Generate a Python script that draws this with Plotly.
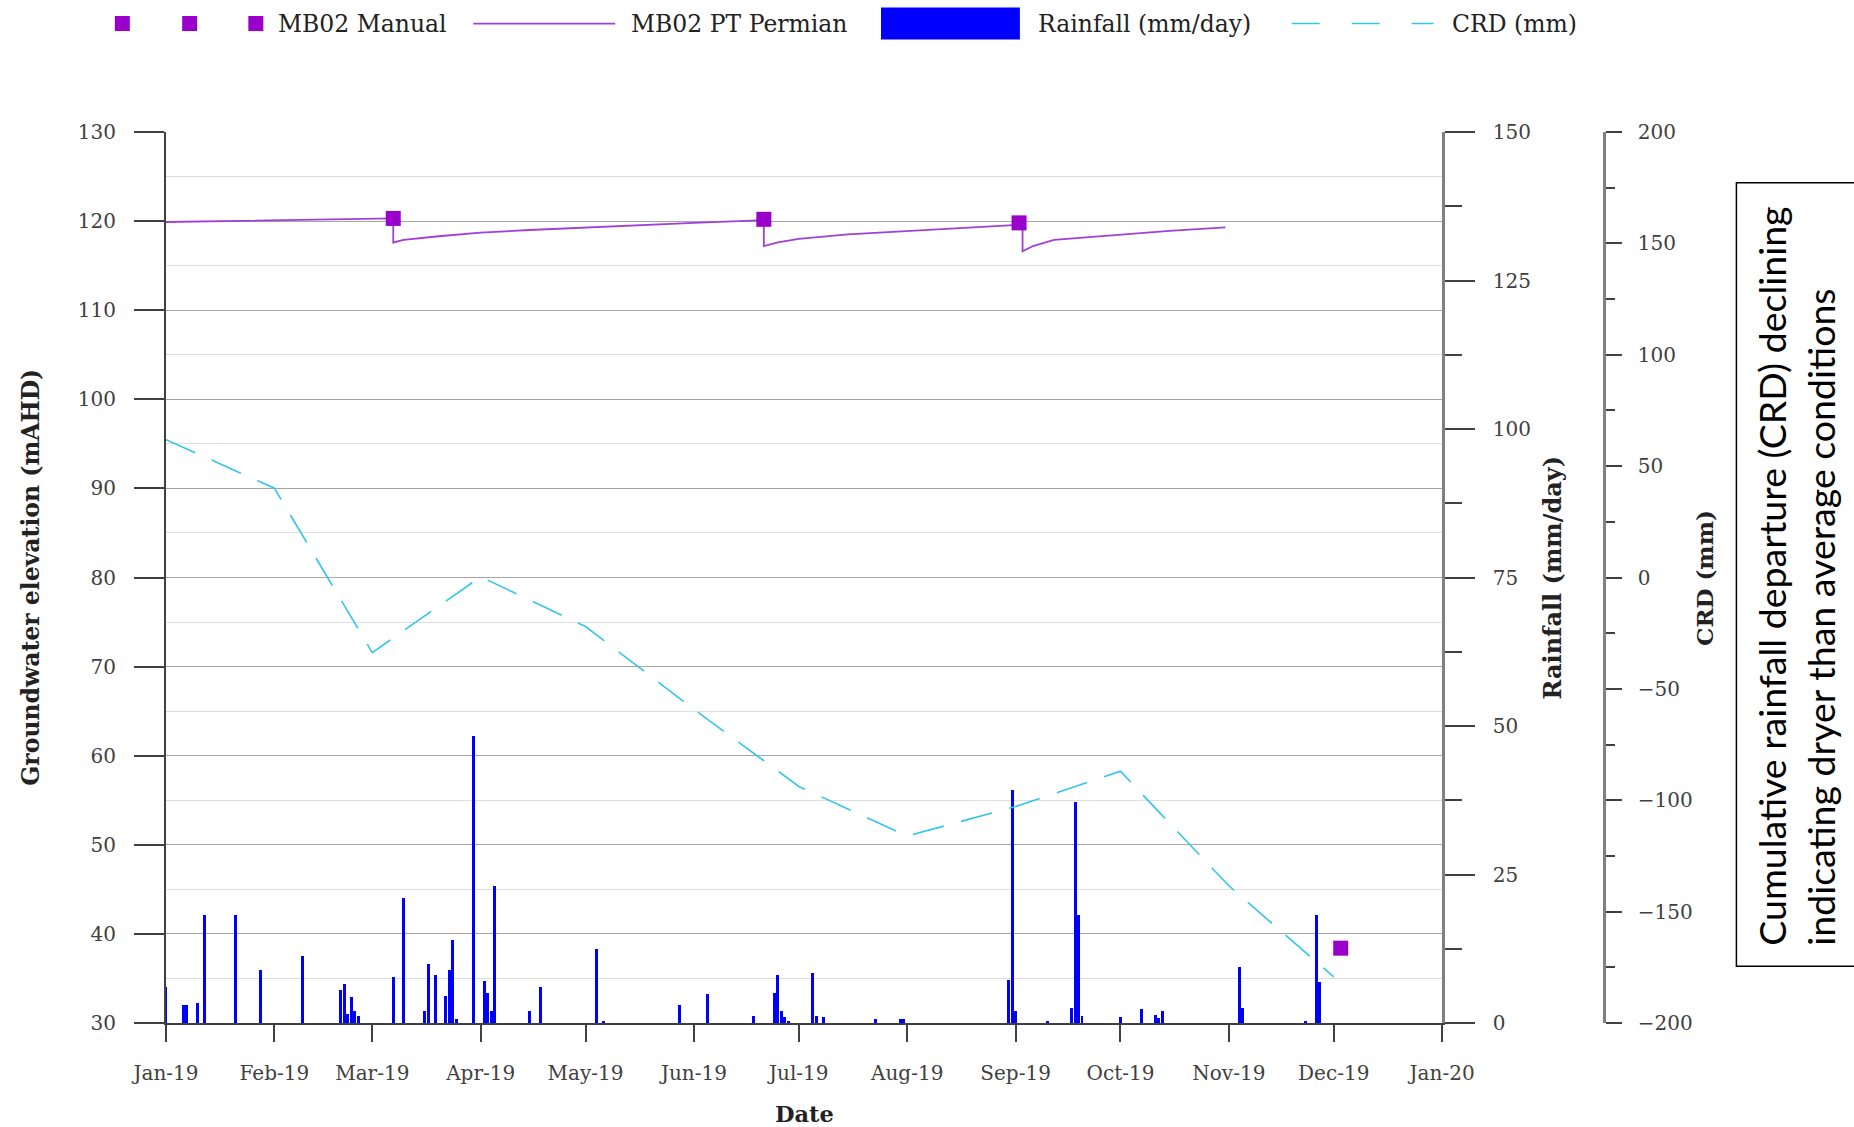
import plotly.graph_objects as go

# Manuelle Messungen (mAHD)
manual_dates = ["2019-03-07", "2019-06-21", "2019-09-02", "2019-12-03"]
manual_mahd = [120.3, 120.2, 119.8, 38.4]

# Drucksonde MB02 PT Permian (mAHD)
pt_dates = ["2019-01-01", "2019-02-01", "2019-03-07", "2019-03-07", "2019-03-10", "2019-03-20",
            "2019-04-01", "2019-04-15", "2019-05-01", "2019-06-01", "2019-06-21", "2019-06-21",
            "2019-06-25", "2019-07-01", "2019-07-15", "2019-08-01", "2019-08-15", "2019-09-03",
            "2019-09-03", "2019-09-06", "2019-09-12", "2019-10-01", "2019-10-15", "2019-10-31"]
pt_mahd = [119.9, 120.1, 120.3, 117.6, 117.9, 118.3,
           118.7, 119.0, 119.3, 119.8, 120.1, 117.2,
           117.6, 118.0, 118.5, 118.9, 119.2, 119.6,
           116.6, 117.2, 117.9, 118.5, 118.9, 119.3]

# Niederschlag (mm/day)
rain_dates = ["2019-01-01", "2019-01-06", "2019-01-07", "2019-01-10", "2019-01-12", "2019-01-21",
              "2019-01-28", "2019-02-09", "2019-02-20", "2019-02-21", "2019-02-22", "2019-02-23",
              "2019-02-24", "2019-02-25", "2019-03-07", "2019-03-10", "2019-03-16", "2019-03-17",
              "2019-03-19", "2019-03-22", "2019-03-23", "2019-03-24", "2019-03-25", "2019-03-30",
              "2019-04-02", "2019-04-03", "2019-04-04", "2019-04-05", "2019-04-15", "2019-04-18",
              "2019-05-04", "2019-05-06", "2019-05-28", "2019-06-05", "2019-06-18", "2019-06-24",
              "2019-06-25", "2019-06-26", "2019-06-27", "2019-06-28", "2019-07-05", "2019-07-06",
              "2019-07-08", "2019-07-23", "2019-07-30", "2019-07-31", "2019-08-30", "2019-08-31",
              "2019-09-01", "2019-09-10", "2019-09-17", "2019-09-18", "2019-09-19", "2019-09-20",
              "2019-10-01", "2019-10-07", "2019-10-11", "2019-10-12", "2019-10-13", "2019-11-04",
              "2019-11-05", "2019-11-23", "2019-11-26", "2019-11-27"]
rain_mm = [6.1, 3.0, 3.0, 3.4, 18.1, 18.1,
           9.0, 11.2, 5.6, 6.6, 1.6, 4.4,
           2.0, 1.1, 7.7, 21.0, 2.0, 10.0,
           8.0, 4.6, 9.0, 14.0, 0.7, 48.4,
           7.0, 5.0, 2.0, 23.0, 2.0, 6.0,
           12.5, 0.3, 3.0, 4.9, 1.1, 5.0,
           8.0, 2.0, 1.0, 0.3, 8.4, 1.1,
           1.0, 0.6, 0.6, 0.6, 7.3, 39.2,
           2.0, 0.3, 2.5, 37.2, 18.1, 1.1,
           1.0, 2.4, 1.4, 0.8, 2.0, 9.4,
           2.5, 0.3, 18.1, 6.9]

# Cumulative rainfall departure (mm), monatlich
crd_dates = ["2019-01-01", "2019-02-01", "2019-03-01", "2019-04-01", "2019-05-01", "2019-06-01",
             "2019-07-01", "2019-08-01", "2019-09-01", "2019-10-01", "2019-11-01", "2019-12-01"]
crd_mm = [61.9, 40.1, -33.7, 0.3, -22.0, -59.2, -93.8, -116.1, -102.8, -87.0, -138.4, -179.3]

PURPLE = "#9900CC"
PT_COL = "#A040D8"
BLUE = "#0000FF"
CYAN = "#33C6E8"
GREY = "#404040"
SERIF = "DejaVu Serif"

# Seitenlayout in Pixeln
W, H = 1854, 1127
L, R, T, B = 165.5, 249.5, 132.4, 104.2
PW = W - L - R
PH = H - T - B


def px(x):
    return (x - L) / PW


def py(y):
    return (H - B - y) / PH


fig = go.Figure()

fig.add_trace(go.Scatter(x=pt_dates, y=pt_mahd, mode="lines", name="MB02 PT Permian",
                         line=dict(color=PT_COL, width=1.8), yaxis="y"))
fig.add_trace(go.Scatter(x=manual_dates, y=manual_mahd, mode="markers", name="MB02 Manual",
                         marker=dict(symbol="square", size=15, color=PURPLE), yaxis="y"))
fig.add_trace(go.Bar(x=rain_dates, y=rain_mm, name="Rainfall (mm/day)", marker_color=BLUE,
                     marker_line_width=0, width=0.85 * 86400000, yaxis="y2"))
fig.add_trace(go.Scatter(x=crd_dates, y=crd_mm, mode="lines", name="CRD (mm)",
                         line=dict(color=CYAN, width=1.6, dash="32px,18px"), yaxis="y3"))

tickfont = dict(family=SERIF, size=20, color=GREY)

fig.update_layout(
    template="none",
    width=W, height=H,
    margin=dict(l=L, r=R, t=T, b=B, pad=0),
    paper_bgcolor="white", plot_bgcolor="white",
    showlegend=False,
    bargap=0,
    xaxis=dict(
        domain=[0, px(1442.5)], type="date",
        range=["2019-01-01", "2020-01-01"],
        tick0="2019-01-01", dtick="M1", tickformat="%b-%y",
        ticks="outside", ticklen=17, tickwidth=1.5, tickcolor=GREY,
        showline=True, linecolor=GREY, linewidth=2,
        showgrid=False, zeroline=False, automargin=False,
        tickfont=tickfont, ticklabelstandoff=14,
    ),
    yaxis=dict(
        range=[30, 130], tick0=30, dtick=10,
        ticks="outside", ticklen=30, tickwidth=1.5, tickcolor=GREY,
        showline=True, linecolor=GREY, linewidth=2,
        showgrid=True, gridcolor="#a6a6a6", gridwidth=1,
        minor=dict(dtick=5, showgrid=True, gridcolor="#dedede", gridwidth=1, ticks=""),
        zeroline=False, automargin=False,
        tickfont=tickfont, ticklabelstandoff=14,
    ),
    yaxis2=dict(
        overlaying="y", side="right", anchor="x",
        range=[0, 150], tick0=0, dtick=25,
        ticks="outside", ticklen=30, tickwidth=1.5, tickcolor=GREY,
        minor=dict(dtick=12.5, ticks="outside", ticklen=17, tickwidth=1.5, tickcolor=GREY,
                   showgrid=False),
        showline=True, linecolor="#808080", linewidth=2.5,
        showgrid=False, zeroline=False, automargin=False,
        tickfont=tickfont, ticklabelstandoff=14,
    ),
    yaxis3=dict(
        overlaying="y", side="right", anchor="free", position=1.0,
        range=[-200, 200], tick0=-200, dtick=50,
        ticks="outside", ticklen=16, tickwidth=1.5, tickcolor=GREY,
        minor=dict(dtick=25, ticks="outside", ticklen=9, tickwidth=1.5, tickcolor=GREY,
                   showgrid=False),
        showline=True, linecolor="#808080", linewidth=2.5,
        showgrid=False, zeroline=False, automargin=False,
        tickfont=tickfont, ticklabelstandoff=12,
    ),
)

annos = [
    dict(text="<b>Groundwater elevation (mAHD)</b>", x=px(29.6), y=0.5, textangle=-90, size=23.5),
    dict(text="<b>Rainfall (mm/day)</b>", x=px(1552.5), y=0.5, textangle=-90, size=24),
    dict(text="<b>CRD (mm)</b>", x=px(1705), y=0.5, textangle=-90, size=23),
    dict(text="<b>Date</b>", x=px(804), y=py(1114), size=22.5),
]
for a in annos:
    size = a.pop("size")
    fig.add_annotation(xref="paper", yref="paper", showarrow=False,
                       font=dict(family=SERIF, size=size, color="#222222"),
                       xanchor="center", yanchor="middle", **a)

# Textbox rechts
fig.add_shape(type="rect", xref="paper", yref="paper",
              x0=px(1737), x1=px(1875), y0=py(966), y1=py(183),
              line=dict(color="black", width=1.5), fillcolor="white", layer="above")
fig.add_annotation(xref="paper", yref="paper", x=px(1797), y=py(576.5), showarrow=False,
                   textangle=-90, align="left", xanchor="center", yanchor="middle",
                   text="Cumulative rainfall departure (CRD) declining<br>"
                        "indicating dryer than average conditions",
                   font=dict(family="Lato", size=37.5, color="black"))

# Legende (manuell, wie im Original)
leg_y = py(24)
legfont = dict(family=SERIF, size=23.5, color="#222222")
for mx in (121.8, 189.2, 255.4):
    fig.add_shape(type="rect", xref="paper", yref="paper",
                  x0=px(mx - 7.5), x1=px(mx + 7.5), y0=py(24 + 7.5), y1=py(24 - 7.5),
                  line_width=0, fillcolor=PURPLE)
fig.add_shape(type="line", xref="paper", yref="paper", x0=px(473), x1=px(615), y0=leg_y, y1=leg_y,
              line=dict(color=PT_COL, width=1.8))
fig.add_shape(type="rect", xref="paper", yref="paper", x0=px(881), x1=px(1020), y0=py(40), y1=py(8),
              line_width=0, fillcolor=BLUE)
fig.add_shape(type="line", xref="paper", yref="paper", x0=px(1292), x1=px(1434), y0=leg_y, y1=leg_y,
              line=dict(color=CYAN, width=1.6, dash="28px,32px"))
for label, lx in (("MB02 Manual", 275.5), ("MB02 PT Permian", 629),
                  ("Rainfall (mm/day)", 1036), ("CRD (mm)", 1450)):
    fig.add_annotation(xref="paper", yref="paper", x=px(lx), y=leg_y, text=label, showarrow=False,
                       xanchor="left", yanchor="middle", font=legfont)

# Browser-Standardrand entfernen, damit die Grafik bündig sitzt
fig.write_html("out.html", config={"displayModeBar": False},
               post_script="document.body.style.margin='0px';")
